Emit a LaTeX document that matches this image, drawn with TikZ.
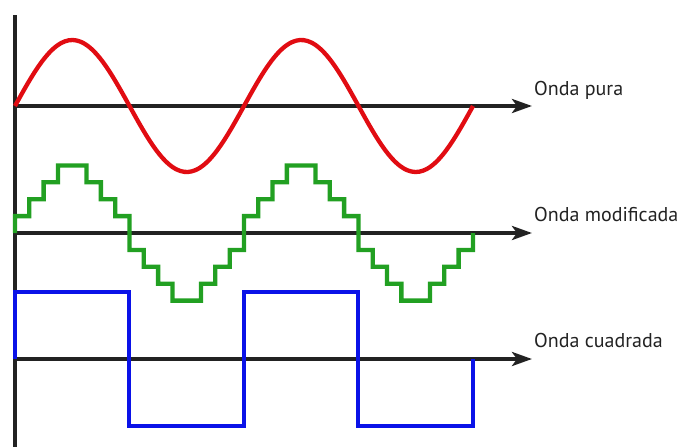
\documentclass[tikz,border=0pt]{standalone}
\usepackage{fontspec}
\setmainfont{PT Sans}
\usetikzlibrary{arrows.meta, positioning}
\definecolor{waveRed}{RGB}{225, 12, 18}
\definecolor{waveGreen}{RGB}{34, 160, 34}
\definecolor{waveBlue}{RGB}{10, 18, 232}
\definecolor{axisGray}{RGB}{34, 34, 34}

\begin{document}
\begin{tikzpicture}[x=1pt, y=-1pt,
    every node/.style={font=\fontsize{20}{24}\selectfont, text=axisGray, inner sep=0pt, anchor=base west},
    axisline/.style={draw=axisGray, line width=4pt},
    axisarrow/.style={axisline, -{Stealth[length=20pt, width=14pt, inset=5pt]}},
    wave/.style={line width=4.3pt, line join=miter}]
    \useasboundingbox (0,0) rectangle (684,447);

    % axes
    \coordinate (top) at (15,15);
    \coordinate (bottom) at (15,447);
    \coordinate (pureStart) at (15,106);
    \coordinate (pureEnd) at (532,106);
    \coordinate (modStart) at (15,233);
    \coordinate (modEnd) at (532,233);
    \coordinate (sqStart) at (15,359);
    \coordinate (sqEnd) at (532,359);
    \draw[axisline] (top) -- (bottom);
    \draw[axisarrow] (pureStart) -- (pureEnd);
    \draw[axisarrow] (modStart) -- (modEnd);
    \draw[axisarrow] (sqStart) -- (sqEnd);

    % labels
    \node (pureLbl) at ([xshift=2pt, yshift=11pt]pureEnd) {Onda pura};
    \node (modLbl) at ([xshift=2pt, yshift=12pt]modEnd) {Onda modificada};
    \node (sqLbl) at ([xshift=2pt, yshift=12pt]sqEnd) {Onda cuadrada};

    % pure sine
    \draw[wave, waveRed] plot[domain=15:473, samples=120, smooth]
        (\x, {106 - 66*sin((\x-15)/229*360)});

    % modified (stepped) sine
    \draw[wave, waveGreen] (modStart)
        \foreach \lv [count=\k from 0] in {1,2,3,4,4,3,2,1,-1,-2,-3,-4,-4,-3,-2,-1,1,2,3,4,4,3,2,1,-1,-2,-3,-4,-4,-3,-2,-1}
        { -- ({15+\k*14.31}, {233-\lv*16.9}) -- ++(14.31,0) }
        -- (473,233);

    % square wave
    \draw[wave, waveBlue] (sqStart) -- (15,292) -- (129,292) -- (129,426)
        -- (244,426) -- (244,292) -- (358,292) -- (358,426) -- (473,426) -- (473,359);
\end{tikzpicture}
\end{document}
